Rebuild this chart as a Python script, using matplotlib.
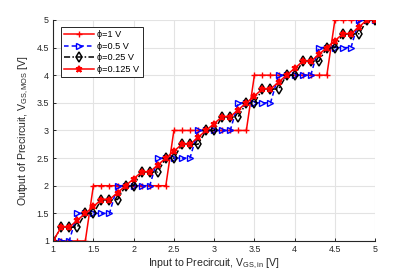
import numpy as np
import matplotlib
matplotlib.use('Agg')
import matplotlib.pyplot as plt

plt.rcParams['font.family'] = ['Liberation Sans', 'DejaVu Sans']
plt.rcParams['mathtext.fontset'] = 'custom'
plt.rcParams['mathtext.rm'] = 'Liberation Sans'
plt.rcParams['mathtext.it'] = 'Liberation Sans:italic'

#%% data

vin = [1.0, 1.1, 1.2, 1.3, 1.4, 1.5, 1.6, 1.7, 1.8, 1.9,
       2.0, 2.1, 2.2, 2.3, 2.4, 2.5, 2.6, 2.7, 2.8, 2.9,
       3.0, 3.1, 3.2, 3.3, 3.4, 3.5, 3.6, 3.7, 3.8, 3.9,
       4.0, 4.1, 4.2, 4.3, 4.4, 4.5, 4.6, 4.7, 4.8, 4.9, 5.0]

out_phi1 = [1, 1, 1, 1, 1, 2, 2, 2, 2, 2,
            2, 2, 2, 2, 2, 3, 3, 3, 3, 3,
            3, 3, 3, 3, 3, 4, 4, 4, 4, 4,
            4, 4, 4, 4, 4, 5, 5, 5, 5, 5, 5]

out_phi05 = [1, 1, 1, 1.5, 1.5, 1.5, 1.5, 1.5, 2, 2,
             2, 2, 2, 2.5, 2.5, 2.5, 2.5, 2.5, 3, 3,
             3, 3, 3, 3.5, 3.5, 3.5, 3.5, 3.5, 4, 4,
             4, 4, 4, 4.5, 4.5, 4.5, 4.5, 4.5, 5, 5, 5]

out_phi025 = [1, 1.25, 1.25, 1.25, 1.5, 1.5, 1.75, 1.75, 1.75, 2,
              2, 2.25, 2.25, 2.25, 2.5, 2.5, 2.75, 2.75, 2.75, 3,
              3, 3.25, 3.25, 3.25, 3.5, 3.5, 3.75, 3.75, 3.75, 4,
              4, 4.25, 4.25, 4.25, 4.5, 4.5, 4.75, 4.75, 4.75, 5, 5]

out_phi0125 = [1, 1.25, 1.25, 1.375, 1.5, 1.625, 1.75, 1.75, 1.875, 2,
               2.125, 2.25, 2.25, 2.375, 2.5, 2.625, 2.75, 2.75, 2.875, 3,
               3.125, 3.25, 3.25, 3.375, 3.5, 3.625, 3.75, 3.75, 3.875, 4,
               4.125, 4.25, 4.25, 4.375, 4.5, 4.625, 4.75, 4.75, 4.875, 5, 5]

ticks = [1, 1.5, 2, 2.5, 3, 3.5, 4, 4.5, 5]
tick_labels = ['1', '1.5', '2', '2.5', '3', '3.5', '4', '4.5', '5']

#%% plot

fig = plt.figure(figsize=(4.15, 2.77), dpi=100)
ax = fig.add_axes([0.128, 0.130, 0.776, 0.798])

ax.plot(vin, out_phi1, '-', color='r', marker='+', ms=5, mew=1.0, lw=1.1,
        label='\u03d5=1 V')
ax.plot(vin, out_phi05, color='b', ls=(0, (3, 2)), marker='>', ms=5, mfc='none',
        mew=1.0, lw=1.1, label='\u03d5=0.5 V')
ax.plot(vin, out_phi025, color='k', ls=(0, (4, 1.5, 1, 1.5)), marker='d', ms=5,
        mfc='none', mew=1.1, lw=1.1, label='\u03d5=0.25 V')
ax.plot(vin, out_phi0125, '-', color='r', marker='*', ms=5, mew=1.3, lw=1.1,
        label='\u03d5=0.125 V')

ax.set_xlim(1, 5)
ax.set_ylim(1, 5)
ax.set_xticks(ticks)
ax.set_xticklabels(tick_labels)
ax.set_yticks(ticks)
ax.set_yticklabels(tick_labels)

ax.grid(True, color='#e3e3e3', lw=0.8)
ax.set_axisbelow(True)
for s in ['top', 'right']:
    ax.spines[s].set_visible(False)
for s in ['left', 'bottom']:
    ax.spines[s].set_color('#262626')
    ax.spines[s].set_linewidth(0.8)
ax.tick_params(direction='in', length=2.5, width=0.7, colors='#262626',
               labelsize=6.4, pad=3)

ax.set_xlabel(r'Input to Precircuit, V$_{\mathrm{GS,in}}$ [V]', fontsize=7.6,
              color='#262626', labelpad=2)
ax.set_ylabel(r'Output of Precircuit, V$_{\mathrm{GS,MOS}}$ [V]', fontsize=7.6,
              color='#262626', labelpad=4)

leg = ax.legend(loc='upper left', bbox_to_anchor=(0.025, 0.968), borderaxespad=0,
                fontsize=6.6, handlelength=3.2, labelspacing=0.28, handletextpad=0.4,
                borderpad=0.35, fancybox=False, framealpha=1)
leg.get_frame().set_edgecolor('#262626')
leg.get_frame().set_linewidth(0.7)

fig.savefig('out.png', dpi=100)
